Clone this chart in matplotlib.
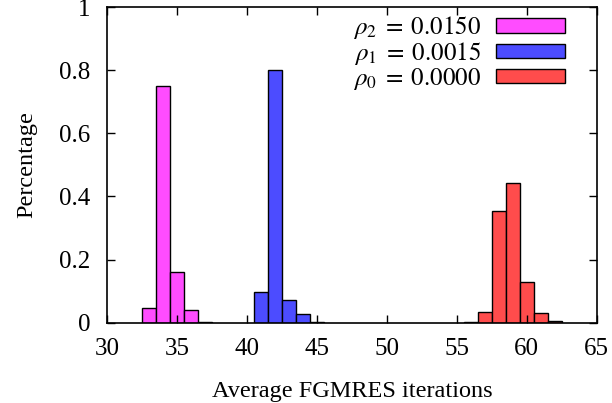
import matplotlib
matplotlib.use("Agg")
import matplotlib.pyplot as plt

plt.rcParams['font.family'] = ['Liberation Serif', 'DejaVu Serif']
plt.rcParams['mathtext.fontset'] = 'stix'

# Data
iters_rho2 = [33, 34, 35, 36, 37]
pct_rho2 = [0.046, 0.751, 0.159, 0.041, 0.003]

iters_rho1 = [41, 42, 43, 44, 45]
pct_rho1 = [0.096, 0.799, 0.072, 0.028, 0.003]

iters_rho0 = [56, 57, 58, 59, 60, 61, 62]
pct_rho0 = [0.002, 0.035, 0.355, 0.443, 0.128, 0.032, 0.005]

labels = [r'$\rho_2\;=\;0.0150$', r'$\rho_1\;=\;0.0015$', r'$\rho_0\;=\;0.0000$']
colors = ['#ff4cff', '#4c4cff', '#ff4c4c']

xticks = [30, 35, 40, 45, 50, 55, 60, 65]
yticks = [0, 0.2, 0.4, 0.6, 0.8, 1]
yticklabels = ['0', '0.2', '0.4', '0.6', '0.8', '1']

fig = plt.figure(figsize=(6.12, 4.03), dpi=100)
ax = fig.add_axes([0.1753, 0.1993, 0.7997, 0.7833])

for x, y, c, lab in zip([iters_rho2, iters_rho1, iters_rho0],
                        [pct_rho2, pct_rho1, pct_rho0], colors, labels):
    ax.bar(x, y, width=1.0, color=c, edgecolor='black', linewidth=1.0, label=lab)

ax.set_xlim(30, 65)
ax.set_ylim(0, 1)
ax.set_xticks(xticks)
ax.set_yticks(yticks)
ax.set_yticklabels(yticklabels)
ax.tick_params(direction='in', top=True, right=True, length=6, width=1,
               labelsize=18, pad=11)
ax.tick_params(axis='y', pad=12)
for s in ax.spines.values():
    s.set_linewidth(1.2)

ax.set_xlabel('Average FGMRES iterations', fontsize=17.5, labelpad=15)
ax.set_ylabel('Percentage', fontsize=17.5, labelpad=16)

leg = ax.legend(loc='upper right', frameon=False, markerfirst=False, fontsize=18,
                handlelength=2.75, handleheight=0.5, labelspacing=-0.05,
                handletextpad=0.6, borderaxespad=0.0, bbox_to_anchor=(0.955, 1.008))

fig.savefig('out.png', dpi=100)
